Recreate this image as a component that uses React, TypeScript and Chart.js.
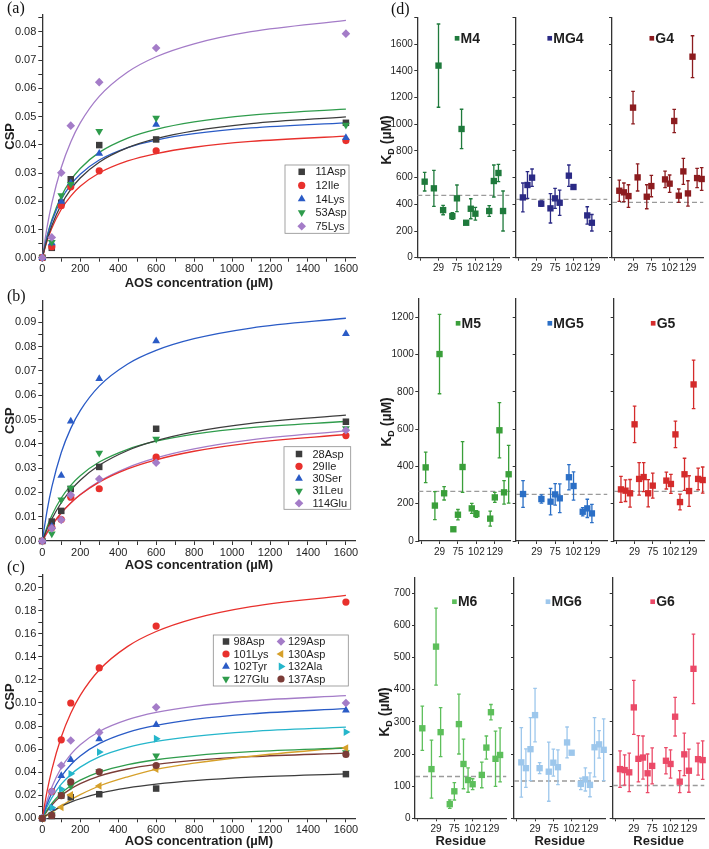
import React, { useEffect, useRef } from 'react';
import { Chart, registerables } from 'chart.js';

Chart.register(...registerables);

const SANS = "'Liberation Sans', Arial, Helvetica, sans-serif";
const SERIF = "'Liberation Serif', 'Times New Roman', serif";
const AXIS_COLOR = '#333333';
const TEXT_COLOR = '#1e1e1e';

// ================= (a)-(c) CSP titration data =================
const CONC = [0, 50, 100, 150, 300, 600, 1600];
const FIT_CONC = [0, 25, 50, 100, 150, 200, 300, 450, 600, 800, 1100, 1600];
const CONC_TICKS = [0, 100, 200, 300, 400, 500, 600, 700, 800, 900, 1000, 1100, 1200, 1300, 1400, 1500, 1600];

// (a)
const A_LABELS = ['11Asp', '12Ile', '14Lys', '53Asp', '75Lys'];
const A_11ASP = [0, 0.0035, 0.0195, 0.0278, 0.0399, 0.0419, 0.0478];
const A_12ILE = [0, 0.0039, 0.0184, 0.0251, 0.0308, 0.0379, 0.0415];
const A_14LYS = [0, 0.0052, 0.0199, 0.0265, 0.0369, 0.0472, 0.0425];
const A_53ASP = [0, 0.0055, 0.022, 0.026, 0.0448, 0.0495, 0.047];
const A_75LYS = [0, 0.0072, 0.0301, 0.0468, 0.0622, 0.0743, 0.0794];
const A_FIT_11ASP = [0, 0.00631, 0.01134, 0.01887, 0.02422, 0.02823, 0.03383, 0.03898, 0.04219, 0.04497, 0.04753, 0.0499];
const A_FIT_12ILE = [0, 0.00587, 0.01046, 0.01717, 0.02184, 0.02528, 0.03, 0.03427, 0.03689, 0.03914, 0.0412, 0.04308];
const A_FIT_14LYS = [0, 0.00732, 0.01284, 0.02063, 0.02586, 0.0296, 0.03463, 0.03904, 0.0417, 0.04394, 0.04597, 0.0478];
const A_FIT_53ASP = [0, 0.00754, 0.01335, 0.02172, 0.02745, 0.03163, 0.03731, 0.04238, 0.04547, 0.0481, 0.0505, 0.05267];
const A_FIT_75LYS = [0, 0.01072, 0.01924, 0.03197, 0.041, 0.04775, 0.05715, 0.06579, 0.0712, 0.0758, 0.0801, 0.0841];
const A_YTICKS = [0, 0.005, 0.01, 0.015, 0.02, 0.025, 0.03, 0.035, 0.04, 0.045, 0.05, 0.055, 0.06, 0.065, 0.07, 0.075, 0.08, 0.085];

// (b)
const B_LABELS = ['28Asp', '29Ile', '30Ser', '31Leu', '114Glu'];
const B_28ASP = [0, 0.008, 0.0124, 0.0214, 0.0305, 0.0462, 0.0491];
const B_29ILE = [0, 0.0055, 0.0088, 0.018, 0.0215, 0.0345, 0.0434];
const B_30SER = [0, 0.006, 0.027, 0.0493, 0.0668, 0.0823, 0.0853];
const B_31LEU = [0, 0.003, 0.017, 0.0218, 0.0362, 0.042, 0.0463];
const B_114GLU = [0, 0.0052, 0.0087, 0.0189, 0.0255, 0.0322, 0.0456];
const B_FIT_28ASP = [0, 0.00488, 0.00904, 0.01575, 0.02092, 0.02504, 0.03117, 0.03726, 0.04128, 0.04493, 0.04842, 0.05178];
const B_FIT_29ILE = [0, 0.00344, 0.00646, 0.01154, 0.01564, 0.01901, 0.02424, 0.02969, 0.03344, 0.03695, 0.04042, 0.04384];
const B_FIT_30SER = [0, 0.01244, 0.02217, 0.03643, 0.04636, 0.05368, 0.06375, 0.07286, 0.07846, 0.08327, 0.08766, 0.09169];
const B_FIT_31LEU = [0, 0.00581, 0.01053, 0.01771, 0.02293, 0.02689, 0.0325, 0.03776, 0.04108, 0.04398, 0.04668, 0.04919];
const B_FIT_114GLU = [0, 0.00341, 0.00643, 0.01154, 0.0157, 0.01915, 0.02455, 0.03023, 0.03419, 0.03791, 0.04162, 0.04531];
const B_YTICKS = [0, 0.005, 0.01, 0.015, 0.02, 0.025, 0.03, 0.035, 0.04, 0.045, 0.05, 0.055, 0.06, 0.065, 0.07, 0.075, 0.08, 0.085, 0.09, 0.095];

// (c)
const C_LABELS = ['98Asp', '101Lys', '102Tyr', '127Glu', '129Asp', '130Asp', '132Ala', '137Asp'];
const C_98ASP = [0, 0.002, 0.0197, 0.0183, 0.0209, 0.0258, 0.0383];
const C_101LYS = [0, 0.0232, 0.0681, 0.1, 0.1304, 0.1667, 0.1875];
const C_102TYR = [0, 0.009, 0.0368, 0.0507, 0.0687, 0.0812, 0.0936];
const C_127GLU = [0, 0.003, 0.0205, 0.028, 0.0406, 0.0542, 0.0571];
const C_129ASP = [0, 0.0232, 0.0458, 0.0675, 0.0745, 0.0962, 0.1];
const C_130ASP = [0, 0.003, 0.0096, 0.0203, 0.0281, 0.0426, 0.0609];
const C_132ALA = [0, 0.0093, 0.0252, 0.0386, 0.0574, 0.069, 0.0748];
const C_137ASP = [0, 0.0025, 0.0197, 0.0316, 0.0403, 0.0458, 0.0554];
const C_FIT_98ASP = [0, 0.00309, 0.0058, 0.01033, 0.01396, 0.01695, 0.02155, 0.02632, 0.02959, 0.03264, 0.03563, 0.03859];
const C_FIT_101LYS = [0, 0.02327, 0.04206, 0.07055, 0.09113, 0.10668, 0.12865, 0.14911, 0.162, 0.17323, 0.18364, 0.19333];
const C_FIT_102TYR = [0, 0.01217, 0.02184, 0.03626, 0.04648, 0.05411, 0.06474, 0.07449, 0.08055, 0.0858, 0.09062, 0.09507];
const C_FIT_127GLU = [0, 0.0071, 0.01288, 0.02172, 0.02817, 0.03308, 0.04006, 0.04661, 0.05077, 0.05441, 0.05779, 0.06096];
const C_FIT_129ASP = [0, 0.01522, 0.02695, 0.04384, 0.05542, 0.06386, 0.07532, 0.08556, 0.0918, 0.09711, 0.10193, 0.10633];
const C_FIT_130ASP = [0, 0.0025, 0.005, 0.0105, 0.016, 0.0205, 0.028, 0.036, 0.0425, 0.0478, 0.0538, 0.0615];
const C_FIT_132ALA = [0, 0.00985, 0.01773, 0.02957, 0.03803, 0.04439, 0.05329, 0.06152, 0.06667, 0.07113, 0.07525, 0.07907];
const C_FIT_137ASP = [0, 0.00633, 0.01154, 0.01958, 0.0255, 0.03005, 0.03657, 0.04275, 0.0467, 0.05017, 0.05343, 0.05648];
const C_YTICKS = [0, 0.01, 0.02, 0.03, 0.04, 0.05, 0.06, 0.07, 0.08, 0.09, 0.1, 0.11, 0.12, 0.13, 0.14, 0.15, 0.16, 0.17, 0.18, 0.19, 0.2, 0.21];

// ================= (d) KD per residue data =================
const RES_TICK_IDX = [0, 4, 8, 12, 16];
const RES_TICK_LABELS = ['', '29', '75', '102', '129'];

const M4_IDX = [1, 3, 4, 5, 7, 8, 9, 10, 11, 12, 15, 16, 17, 18];
const M4_KD = [570, 520, 1440, 357, 312, 445, 965, 262, 367, 330, 350, 575, 635, 350];
const M4_ERR = [70, 135, 312, 35, 25, 100, 148, 12, 75, 48, 40, 120, 65, 150];
const M4_MEAN = 467;
const MG4_IDX = [1, 2, 3, 5, 7, 8, 9, 11, 12, 15, 16];
const MG4_KD = [452, 545, 600, 405, 370, 445, 412, 615, 530, 317, 262];
const MG4_ERR = [108, 100, 65, 20, 110, 75, 95, 80, 8, 65, 62];
const MG4_MEAN = 437;
const G4_IDX = [1, 2, 3, 4, 5, 7, 8, 11, 12, 13, 14, 15, 16, 17, 18, 19];
const G4_KD = [502, 490, 462, 1125, 602, 457, 537, 587, 555, 1025, 465, 647, 482, 1507, 597, 590];
const G4_ERR = [80, 70, 85, 122, 102, 90, 80, 62, 65, 87, 50, 97, 95, 157, 72, 85];
const G4_MEAN = 415;

const M5_IDX = [1, 3, 4, 5, 7, 8, 9, 11, 12, 15, 16, 17, 18, 19];
const M5_KD = [395, 190, 1003, 256, 63, 141, 397, 175, 145, 120, 234, 594, 261, 358];
const M5_ERR = [82, 75, 213, 36, 8, 28, 136, 27, 18, 40, 27, 148, 63, 155];
const M5_MEAN = 266;
const MG5_IDX = [1, 5, 7, 8, 9, 11, 12, 14, 15, 16];
const MG5_KD = [252, 225, 211, 250, 229, 342, 295, 157, 175, 148];
const MG5_ERR = [72, 22, 71, 58, 77, 68, 76, 22, 49, 49];
const MG5_MEAN = 250;
const G5_IDX = [1, 2, 3, 4, 5, 6, 7, 8, 11, 12, 13, 14, 15, 16, 17, 18, 19];
const G5_KD = [277, 270, 256, 626, 333, 343, 256, 297, 324, 306, 572, 209, 358, 268, 840, 333, 327];
const G5_ERR = [70, 58, 74, 98, 87, 78, 73, 67, 45, 51, 71, 42, 86, 82, 130, 58, 70];
const G5_MEAN = 266;

const M6_IDX = [1, 3, 4, 5, 7, 8, 9, 10, 11, 12, 14, 15, 16, 17, 18];
const M6_KD = [280, 153, 534, 268, 44, 84, 293, 169, 119, 106, 135, 220, 330, 185, 197];
const M6_ERR = [69, 90, 120, 76, 13, 27, 93, 77, 38, 17, 40, 36, 24, 86, 84];
const M6_MEAN = 130;
const MG6_IDX = [1, 2, 3, 4, 5, 7, 8, 9, 11, 12, 14, 15, 16, 17, 18, 19];
const MG6_KD = [174, 156, 215, 321, 156, 145, 173, 159, 236, 204, 107, 121, 104, 221, 230, 213];
const MG6_ERR = [108, 60, 98, 83, 17, 92, 42, 54, 48, 5, 18, 36, 37, 92, 43, 96];
const MG6_MEAN = 116;
const G6_IDX = [1, 2, 3, 4, 5, 6, 7, 8, 11, 12, 13, 14, 15, 16, 17, 18, 19];
const G6_KD = [153, 150, 143, 345, 185, 189, 140, 163, 179, 169, 316, 114, 199, 148, 465, 184, 181];
const G6_ERR = [57, 47, 60, 84, 72, 67, 60, 56, 41, 44, 60, 34, 66, 67, 108, 50, 60];
const G6_MEAN = 102;

const KD_TICKS_4 = [0, 200, 400, 600, 800, 1000, 1200, 1400, 1600, 1800];
const KD_TICKS_5 = [0, 200, 400, 600, 800, 1000, 1200];
const KD_TICKS_6 = [0, 100, 200, 300, 400, 500, 600, 700];

// ================= styles =================
const C_GRAY = '#3d3d3d';
const C_RED = '#e8302c';
const C_BLUE = '#2a5bc6';
const C_GREEN = '#2f9c4c';
const C_PURPLE = '#a47cc8';
const C_GOLD = '#d6a02a';
const C_CYAN = '#25b6cb';
const C_BROWN = '#7b3c37';

const MK_SQ = { style: 'rect', rot: 0, r: 4.6 };
const MK_CI = { style: 'circle', rot: 0, r: 3.6 };
const MK_TU = { style: 'triangle', rot: 0, r: 4.5 };
const MK_TD = { style: 'triangle', rot: 180, r: 4.5 };
const MK_DI = { style: 'rectRot', rot: 0, r: 4.3 };
const MK_TL = { style: 'triangle', rot: 270, r: 4.5 };
const MK_TR = { style: 'triangle', rot: 90, r: 4.5 };

const KD_COLORS = [
  ['#1f7a3c', '#2b2a85', '#8c1c1f'],
  ['#3a9f3a', '#2b6fc6', '#d42b2b'],
  ['#5dbf5b', '#9dc7ec', '#eb4a68'],
];

// ================= helpers =================
function drawMarker(ctx: CanvasRenderingContext2D, style: string, rotDeg: number, x: number, y: number, r: number) {
  ctx.beginPath();
  if (style === 'circle') {
    ctx.arc(x, y, r, 0, Math.PI * 2);
  } else if (style === 'rect') {
    const s = r * Math.SQRT1_2;
    ctx.rect(x - s, y - s, 2 * s, 2 * s);
  } else if (style === 'rectRot') {
    ctx.moveTo(x - r, y);
    ctx.lineTo(x, y - r);
    ctx.lineTo(x + r, y);
    ctx.lineTo(x, y + r);
  } else {
    let a = (rotDeg * Math.PI) / 180;
    for (let k = 0; k < 3; k++) {
      const px = x + Math.sin(a) * r;
      const py = y - Math.cos(a) * r;
      if (k === 0) ctx.moveTo(px, py);
      else ctx.lineTo(px, py);
      a += (2 * Math.PI) / 3;
    }
  }
  ctx.closePath();
  ctx.fill();
}

type LegendItem = { ds: number; y: number; mx?: number; tx?: number; r?: number; center?: boolean; dx?: number; gap?: number };
type LegendCfg = { offX: number; offY: number; box?: { x: number; y: number; w: number; h: number }; font: string; items: LegendItem[] };

function makeLegendPlugin(cfg: LegendCfg) {
  return {
    id: 'panelLegend',
    afterDraw(chart: any) {
      const ctx: CanvasRenderingContext2D = chart.ctx;
      const ca = chart.chartArea;
      ctx.save();
      if (cfg.box) {
        ctx.strokeStyle = '#8c8c8c';
        ctx.lineWidth = 0.8;
        ctx.strokeRect(cfg.box.x - cfg.offX, cfg.box.y - cfg.offY, cfg.box.w, cfg.box.h);
      }
      ctx.font = cfg.font;
      ctx.textBaseline = 'middle';
      ctx.textAlign = 'left';
      for (const it of cfg.items) {
        const ds = chart.data.datasets[it.ds];
        const r = it.r ?? ds.pointRadius;
        const y = it.y - cfg.offY;
        let mx: number;
        let tx: number;
        if (it.center) {
          const tw = ctx.measureText(ds.label).width;
          const side = 2 * r * Math.SQRT1_2;
          const gap = it.gap ?? 1;
          const total = side + gap + tw;
          const start = (ca.left + ca.right) / 2 + (it.dx ?? 0) - total / 2;
          mx = start + side / 2;
          tx = start + side + gap;
        } else {
          mx = (it.mx as number) - cfg.offX;
          tx = (it.tx as number) - cfg.offX;
        }
        ctx.fillStyle = ds.pointBackgroundColor;
        drawMarker(ctx, ds.pointStyle, ds.pointRotation || 0, mx, y, r);
        ctx.fillStyle = TEXT_COLOR;
        ctx.fillText(ds.label, tx, y + 0.5);
      }
      ctx.restore();
    },
  };
}

const errorBarPlugin = {
  id: 'kdErrorBars',
  afterDatasetsDraw(chart: any) {
    const ctx: CanvasRenderingContext2D = chart.ctx;
    const ys = chart.scales.y;
    chart.data.datasets.forEach((ds: any, i: number) => {
      if (!ds.errs) return;
      const meta = chart.getDatasetMeta(i);
      ctx.save();
      ctx.strokeStyle = ds.borderColor;
      ctx.lineWidth = 1.3;
      meta.data.forEach((el: any, j: number) => {
        const v = ds.data[j].y;
        const e = ds.errs[j];
        const yt = ys.getPixelForValue(v + e);
        const yb = ys.getPixelForValue(v - e);
        const x = el.x;
        ctx.beginPath();
        ctx.moveTo(x, yt);
        ctx.lineTo(x, yb);
        ctx.moveTo(x - 1.8, yt);
        ctx.lineTo(x + 1.8, yt);
        ctx.moveTo(x - 1.8, yb);
        ctx.lineTo(x + 1.8, yb);
        ctx.stroke();
      });
      ctx.restore();
    });
  },
};

function near(v: number, step: number) {
  return Math.abs(v / step - Math.round(v / step)) < 1e-6;
}

// ================= CSP panel config =================
type CspPanel = {
  tag: string;
  canvas: { left: number; top: number; w: number; h: number };
  areaTop: number;
  areaBottom: number;
  yMax: number;
  yTicks: number[];
  yLabelStep: number;
  labels: string[];
  points: number[][];
  fits: number[][];
  colors: string[];
  marks: { style: string; rot: number; r: number }[];
  legend: { box: { x: number; y: number; w: number; h: number }; perCol: number; rows: number[]; mx: number[]; tx: number[] };
};

const CSP_AXIS_X = 42.3;
const CSP_AXIS_RIGHT = 357.3;

const CSP_PANELS: CspPanel[] = [
  {
    tag: 'a',
    canvas: { left: 0, top: 0, w: 360, h: 291 },
    areaTop: 15,
    areaBottom: 257.7,
    yMax: 0.086,
    yTicks: A_YTICKS,
    yLabelStep: 0.01,
    labels: A_LABELS,
    points: [A_11ASP, A_12ILE, A_14LYS, A_53ASP, A_75LYS],
    fits: [A_FIT_11ASP, A_FIT_12ILE, A_FIT_14LYS, A_FIT_53ASP, A_FIT_75LYS],
    colors: [C_GRAY, C_RED, C_BLUE, C_GREEN, C_PURPLE],
    marks: [MK_SQ, MK_CI, MK_TU, MK_TD, MK_DI],
    legend: { box: { x: 285, y: 165, w: 64, h: 68.3 }, perCol: 5, rows: [171.8, 185.4, 199, 212.6, 226.2], mx: [301.7], tx: [315.5] },
  },
  {
    tag: 'b',
    canvas: { left: 0, top: 280, w: 360, h: 293 },
    areaTop: 300.5,
    areaBottom: 541,
    yMax: 0.099,
    yTicks: B_YTICKS,
    yLabelStep: 0.01,
    labels: B_LABELS,
    points: [B_28ASP, B_29ILE, B_30SER, B_31LEU, B_114GLU],
    fits: [B_FIT_28ASP, B_FIT_29ILE, B_FIT_30SER, B_FIT_31LEU, B_FIT_114GLU],
    colors: [C_GRAY, C_RED, C_BLUE, C_GREEN, C_PURPLE],
    marks: [MK_SQ, MK_CI, MK_TU, MK_TD, MK_DI],
    legend: { box: { x: 284, y: 446.7, w: 66.7, h: 62.6 }, perCol: 5, rows: [454, 466.3, 478.6, 490.9, 503.2], mx: [299], tx: [312.5] },
  },
  {
    tag: 'c',
    canvas: { left: 0, top: 560, w: 360, h: 289 },
    areaTop: 575,
    areaBottom: 818.3,
    yMax: 0.211,
    yTicks: C_YTICKS,
    yLabelStep: 0.02,
    labels: C_LABELS,
    points: [C_98ASP, C_101LYS, C_102TYR, C_127GLU, C_129ASP, C_130ASP, C_132ALA, C_137ASP],
    fits: [C_FIT_98ASP, C_FIT_101LYS, C_FIT_102TYR, C_FIT_127GLU, C_FIT_129ASP, C_FIT_130ASP, C_FIT_132ALA, C_FIT_137ASP],
    colors: [C_GRAY, C_RED, C_BLUE, C_GREEN, C_PURPLE, C_GOLD, C_CYAN, C_BROWN],
    marks: [MK_SQ, MK_CI, MK_TU, MK_TD, MK_DI, MK_TL, MK_TR, MK_CI],
    legend: { box: { x: 213.3, y: 635, w: 135, h: 51 }, perCol: 4, rows: [641.5, 654, 666.5, 679], mx: [226, 281], tx: [233.5, 288] },
  },
];

function cspConfig(p: CspPanel) {
  const datasets: any[] = [];
  p.labels.forEach((label, i) => {
    const m = p.marks[i];
    datasets.push({
      type: 'line',
      label,
      data: CONC.map((x, k) => ({ x, y: p.points[i][k] })),
      showLine: false,
      pointStyle: m.style,
      pointRotation: m.rot,
      pointRadius: m.r,
      pointBackgroundColor: p.colors[i],
      pointBorderColor: p.colors[i],
      pointBorderWidth: 0,
      borderColor: p.colors[i],
      backgroundColor: p.colors[i],
      clip: false,
      order: 100 - i,
    });
  });
  p.labels.forEach((label, i) => {
    datasets.push({
      type: 'line',
      label: label + ' fit',
      data: FIT_CONC.map((x, k) => ({ x, y: p.fits[i][k] })),
      borderColor: p.colors[i],
      borderWidth: 1.3,
      pointRadius: 0,
      cubicInterpolationMode: 'monotone',
      fill: false,
      order: 200 + i,
    });
  });
  const items: LegendItem[] = p.labels.map((_, i) => {
    const col = Math.floor(i / p.legend.perCol);
    const row = i % p.legend.perCol;
    return { ds: i, y: p.legend.rows[row], mx: p.legend.mx[col], tx: p.legend.tx[col] };
  });
  const c = p.canvas;
  const tickFont = { family: SANS, size: 11 };
  return {
    type: 'line',
    data: { datasets },
    options: {
      responsive: false,
      animation: false,
      events: [],
      layout: { padding: { left: 0, top: p.areaTop - c.top, right: c.left + c.w - CSP_AXIS_RIGHT, bottom: 0 } },
      plugins: { legend: { display: false }, tooltip: { enabled: false } },
      scales: {
        x: {
          type: 'linear',
          min: 0,
          max: 1650,
          afterBuildTicks: (sc: any) => {
            sc.ticks = CONC_TICKS.map((v) => ({ value: v }));
          },
          afterFit: (sc: any) => {
            sc.height = c.top + c.h - p.areaBottom;
          },
          ticks: {
            autoSkip: false,
            maxRotation: 0,
            padding: 1,
            color: TEXT_COLOR,
            font: tickFont,
            callback: (v: number) => (near(v, 200) ? String(v) : ''),
          },
          grid: { drawOnChartArea: false, drawTicks: true, tickLength: 4, tickColor: AXIS_COLOR, tickWidth: 1 },
          border: { display: true, color: AXIS_COLOR, width: 1.3 },
          title: {
            display: true,
            text: 'AOS concentration (µM)',
            color: TEXT_COLOR,
            font: { family: SANS, size: 13, weight: 'bold' },
            padding: { top: 0, bottom: 0 },
          },
        },
        y: {
          type: 'linear',
          min: 0,
          max: p.yMax,
          afterBuildTicks: (sc: any) => {
            sc.ticks = p.yTicks.map((v) => ({ value: v }));
          },
          afterFit: (sc: any) => {
            sc.width = CSP_AXIS_X - c.left;
          },
          ticks: {
            autoSkip: false,
            padding: 2,
            color: TEXT_COLOR,
            font: tickFont,
            callback: (v: number) => (near(v, p.yLabelStep) ? v.toFixed(2) : ''),
          },
          grid: { drawOnChartArea: false, drawTicks: true, tickLength: 4, tickColor: AXIS_COLOR, tickWidth: 1 },
          border: { display: true, color: AXIS_COLOR, width: 1.3 },
          title: {
            display: true,
            text: 'CSP',
            color: TEXT_COLOR,
            font: { family: SANS, size: 13, weight: 'bold' },
            padding: { top: 2.7, bottom: 0 },
          },
        },
      },
    },
    plugins: [makeLegendPlugin({ offX: c.left, offY: c.top, box: p.legend.box, font: `11px ${SANS}`, items })],
  };
}

// ================= KD panel config =================
type KdRow = {
  top: number;
  h: number;
  areaTop: number;
  areaBottom: number;
  yMax: number;
  ticks: number[];
  hideTop: boolean;
  axes: number[];
  labelY: number;
  kdX: number;
  kdY: number;
  residueTitle: boolean;
  panels: { name: string; idx: number[]; kd: number[]; err: number[]; mean: number }[];
};

const KD_X_MIN = -0.6;
const KD_X_MAX = 19.4;
const KD_PANEL_W = 93;

const KD_ROWS: KdRow[] = [
  {
    top: 0, h: 278, areaTop: 17.6, areaBottom: 257.7, yMax: 1800, ticks: KD_TICKS_4, hideTop: true,
    axes: [417.3, 515.5, 612], labelY: 38.3, kdX: 387, kdY: 140, residueTitle: false,
    panels: [
      { name: 'M4', idx: M4_IDX, kd: M4_KD, err: M4_ERR, mean: M4_MEAN },
      { name: 'MG4', idx: MG4_IDX, kd: MG4_KD, err: MG4_ERR, mean: MG4_MEAN },
      { name: 'G4', idx: G4_IDX, kd: G4_KD, err: G4_ERR, mean: G4_MEAN },
    ],
  },
  {
    top: 280, h: 281, areaTop: 298.7, areaBottom: 541, yMax: 1300, ticks: KD_TICKS_5, hideTop: false,
    axes: [418.3, 515.7, 613.7], labelY: 323.3, kdX: 387, kdY: 422, residueTitle: false,
    panels: [
      { name: 'M5', idx: M5_IDX, kd: M5_KD, err: M5_ERR, mean: M5_MEAN },
      { name: 'MG5', idx: MG5_IDX, kd: MG5_KD, err: MG5_ERR, mean: MG5_MEAN },
      { name: 'G5', idx: G5_IDX, kd: G5_KD, err: G5_ERR, mean: G5_MEAN },
    ],
  },
  {
    top: 560, h: 289, areaTop: 577.2, areaBottom: 818.3, yMax: 750, ticks: KD_TICKS_6, hideTop: false,
    axes: [415, 514, 612.7], labelY: 601.7, kdX: 385, kdY: 712, residueTitle: true,
    panels: [
      { name: 'M6', idx: M6_IDX, kd: M6_KD, err: M6_ERR, mean: M6_MEAN },
      { name: 'MG6', idx: MG6_IDX, kd: MG6_KD, err: MG6_ERR, mean: MG6_MEAN },
      { name: 'G6', idx: G6_IDX, kd: G6_KD, err: G6_ERR, mean: G6_MEAN },
    ],
  },
];

function kdGeometry(row: KdRow, col: number) {
  const axisX = row.axes[col];
  const left = col === 0 ? 378 : Math.floor(axisX) - 6;
  const areaRight = axisX + KD_PANEL_W;
  const w = Math.min(709, Math.ceil(areaRight + 3)) - left;
  return { left, top: row.top, w, h: row.h, axisX, areaRight };
}

function kdConfig(row: KdRow, r: number, col: number) {
  const p = row.panels[col];
  const color = KD_COLORS[r][col];
  const g = kdGeometry(row, col);
  const datasets: any[] = [
    {
      type: 'line',
      label: p.name,
      data: p.idx.map((x, k) => ({ x, y: p.kd[k] })),
      errs: p.err,
      showLine: false,
      pointStyle: 'rect',
      pointRadius: 4.5,
      pointBackgroundColor: color,
      pointBorderColor: color,
      pointBorderWidth: 0,
      borderColor: color,
      backgroundColor: color,
      clip: false,
      order: 0,
    },
    {
      type: 'line',
      label: p.name + ' mean',
      data: [
        { x: KD_X_MIN, y: p.mean },
        { x: KD_X_MAX, y: p.mean },
      ],
      borderColor: '#9b9b9b',
      borderDash: [5, 3],
      borderWidth: 1.3,
      pointRadius: 0,
      fill: false,
      order: 10,
    },
  ];
  const tickFont = { family: SANS, size: 10 };
  return {
    type: 'line',
    data: { datasets },
    options: {
      responsive: false,
      animation: false,
      events: [],
      layout: { padding: { left: 0, top: row.areaTop - row.top, right: g.left + g.w - g.areaRight, bottom: 0 } },
      plugins: { legend: { display: false }, tooltip: { enabled: false } },
      scales: {
        x: {
          type: 'linear',
          min: KD_X_MIN,
          max: KD_X_MAX,
          afterBuildTicks: (sc: any) => {
            sc.ticks = RES_TICK_IDX.map((v) => ({ value: v }));
          },
          afterFit: (sc: any) => {
            sc.height = row.top + row.h - row.areaBottom;
          },
          ticks: {
            autoSkip: false,
            maxRotation: 0,
            padding: 2,
            color: TEXT_COLOR,
            font: tickFont,
            callback: (_v: number, i: number) => RES_TICK_LABELS[i] ?? '',
          },
          grid: { drawOnChartArea: false, drawTicks: true, tickLength: 3, tickColor: AXIS_COLOR },
          border: { display: true, color: AXIS_COLOR, width: 1.3 },
          title: {
            display: row.residueTitle,
            text: 'Residue',
            color: TEXT_COLOR,
            font: { family: SANS, size: 13, weight: 'bold' },
            padding: { top: 0, bottom: 0 },
          },
        },
        y: {
          type: 'linear',
          min: 0,
          max: row.yMax,
          afterBuildTicks: (sc: any) => {
            sc.ticks = row.ticks.map((v) => ({ value: v }));
          },
          afterFit: (sc: any) => {
            sc.width = g.axisX - g.left;
          },
          ticks: {
            autoSkip: false,
            padding: 1.5,
            color: TEXT_COLOR,
            font: tickFont,
            callback: (v: number) => (col === 0 && !(row.hideTop && v === row.yMax) ? String(v) : ''),
          },
          grid: { drawOnChartArea: false, drawTicks: true, tickLength: 3, tickColor: AXIS_COLOR },
          border: { display: true, color: AXIS_COLOR, width: 1.3 },
        },
      },
    },
    plugins: [
      errorBarPlugin,
      makeLegendPlugin({
        offX: g.left,
        offY: g.top,
        font: `bold 14px ${SANS}`,
        items: [{ ds: 0, y: row.labelY, center: true, dx: 4, r: 3.3, gap: 1.2 }],
      }),
    ],
  };
}

// ================= components =================
function ChartCanvas({ left, top, w, h, make }: { left: number; top: number; w: number; h: number; make: () => any }) {
  const ref = useRef<HTMLCanvasElement | null>(null);
  useEffect(() => {
    const chart = new Chart(ref.current as HTMLCanvasElement, make());
    return () => chart.destroy();
  }, []);
  return <canvas ref={ref} width={w} height={h} style={{ position: 'absolute', left, top, width: w, height: h }} />;
}

function Tag({ x, y, text }: { x: number; y: number; text: string }) {
  return (
    <div style={{ position: 'absolute', left: x, top: y, font: `16px ${SERIF}`, lineHeight: '16px', color: '#111', whiteSpace: 'nowrap' }}>
      {text}
    </div>
  );
}

function KdTitle({ cx, cy }: { cx: number; cy: number }) {
  return (
    <div
      style={{
        position: 'absolute',
        left: cx,
        top: cy,
        transform: 'translate(-50%, -50%) rotate(-90deg)',
        whiteSpace: 'nowrap',
        font: `bold 14px ${SANS}`,
        lineHeight: '16px',
        color: TEXT_COLOR,
      }}
    >
      K<sub style={{ fontSize: 9, verticalAlign: '-3px', lineHeight: '9px' }}>D</sub> (µM)
    </div>
  );
}

export default function App() {
  return (
    <div style={{ position: 'absolute', left: 0, top: 0, width: 709, height: 849, overflow: 'hidden', background: '#ffffff' }}>
      {CSP_PANELS.map((p) => (
        <ChartCanvas key={p.tag} left={p.canvas.left} top={p.canvas.top} w={p.canvas.w} h={p.canvas.h} make={() => cspConfig(p)} />
      ))}
      {KD_ROWS.map((row, r) =>
        row.panels.map((p, col) => {
          const g = kdGeometry(row, col);
          return <ChartCanvas key={p.name} left={g.left} top={g.top} w={g.w} h={g.h} make={() => kdConfig(row, r, col)} />;
        })
      )}
      {KD_ROWS.map((row, r) => (
        <KdTitle key={'kd' + r} cx={row.kdX} cy={row.kdY} />
      ))}
      <Tag x={7} y={-0.5} text="(a)" />
      <Tag x={7} y={288} text="(b)" />
      <Tag x={7} y={559} text="(c)" />
      <Tag x={391} y={1} text="(d)" />
    </div>
  );
}
